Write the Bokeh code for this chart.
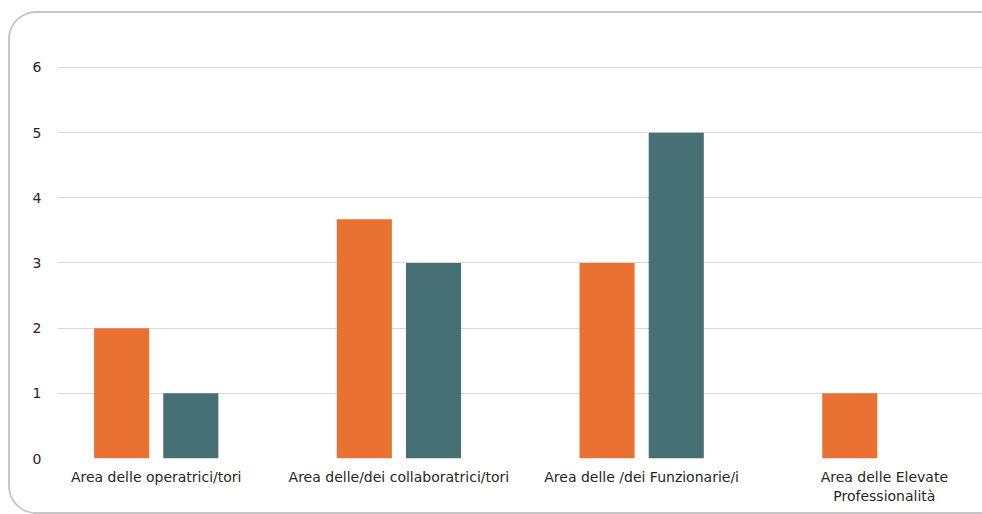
from bokeh.plotting import figure
from bokeh.models import FixedTicker, ColumnDataSource, Range1d
from bokeh.transform import dodge
from bokeh.embed import file_html
from bokeh.resources import INLINE

categories = ["Area delle operatrici/tori", "Area delle/dei collaboratrici/tori",
              "Area delle /dei Funzionarie/i", "Area delle Elevate\nProfessionalità"]
series_orange = [2, 3.67, 3, 1]
series_teal = [1, 3, 5, 0]
y_ticks = [0, 1, 2, 3, 4, 5, 6]

ORANGE = "#E97132"
TEAL = "#467074"
FONT = "DejaVu Sans"

x = list(range(len(categories)))
src = ColumnDataSource(dict(x=x, orange=series_orange, teal=series_teal))

p = figure(width=974, height=503, output_backend="svg", toolbar_location=None,
           x_range=Range1d(-0.4067, 3.4125), y_range=Range1d(0, 6.046),
           min_border_left=47, min_border_right=0, min_border_top=51, min_border_bottom=58,
           margin=(11, 0, 0, 8),
           styles={"border-left": "2px solid #c6c6c6", "border-top": "2px solid #c6c6c6",
                   "border-bottom": "2px solid #c6c6c6",
                   "border-top-left-radius": "28px", "border-bottom-left-radius": "28px",
                   "box-sizing": "border-box", "overflow": "hidden"})

p.vbar(x=dodge("x", -0.1425, range=p.x_range), top="orange", width=0.227, source=src,
       fill_color=ORANGE, line_color=None)
p.vbar(x=dodge("x", 0.1425, range=p.x_range), top="teal", width=0.227, source=src,
       fill_color=TEAL, line_color=None)

p.outline_line_color = None
p.background_fill_color = "white"
p.border_fill_color = "white"

p.xaxis.ticker = FixedTicker(ticks=x)
p.xaxis.major_label_overrides = {i: c for i, c in enumerate(categories)}
p.xaxis.axis_line_color = None
p.xaxis.major_tick_line_color = None
p.xaxis.minor_tick_line_color = None
p.xaxis.major_label_standoff = 4
p.xaxis.major_label_text_font = FONT
p.xaxis.major_label_text_font_size = "14px"
p.xaxis.major_label_text_color = "#262626"
p.xgrid.grid_line_color = None

p.yaxis.ticker = FixedTicker(ticks=y_ticks)
p.yaxis.axis_line_color = None
p.yaxis.major_tick_line_color = None
p.yaxis.minor_tick_line_color = None
p.yaxis.major_label_standoff = 10
p.yaxis.major_label_text_font = FONT
p.yaxis.major_label_text_font_size = "14px"
p.yaxis.major_label_text_color = "#262626"
p.ygrid.grid_line_color = "#d9d9d9"
p.ygrid.grid_line_width = 1

open("out.html", "w").write(file_html(p, INLINE))
